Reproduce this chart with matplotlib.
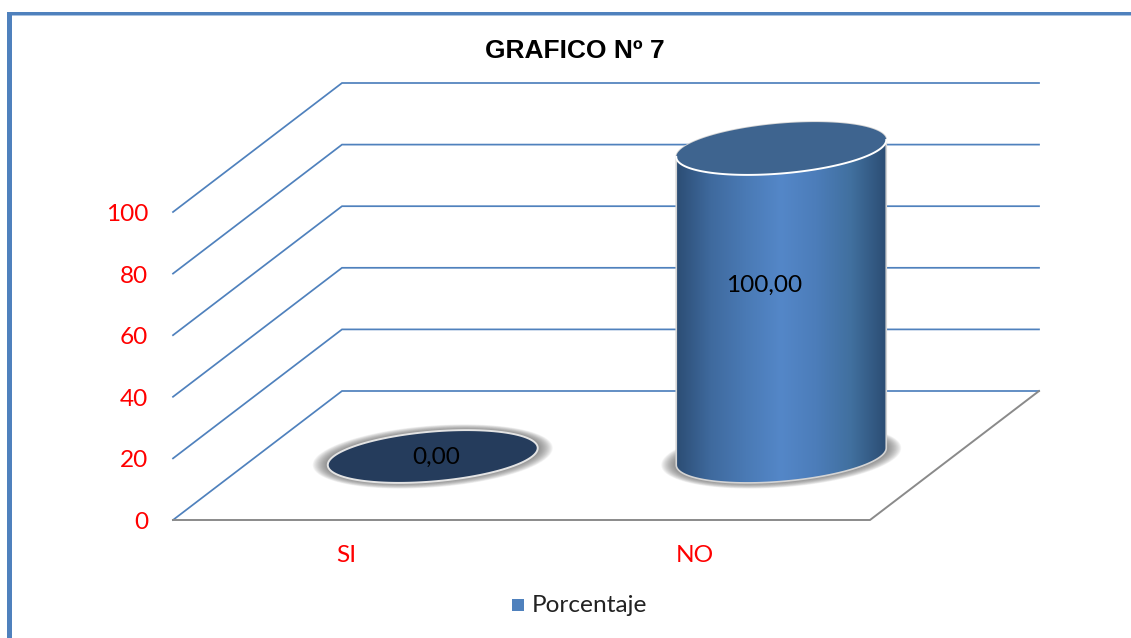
import numpy as np
import matplotlib
matplotlib.use('Agg')
import matplotlib.pyplot as plt
from matplotlib.patches import PathPatch, Rectangle
from matplotlib.path import Path
from matplotlib.colors import LinearSegmentedColormap

categories = ['SI', 'NO']
values = [0.00, 100.00]
value_labels = ['0,00', '100,00']
y_ticks = [0, 20, 40, 60, 80, 100]
series_name = 'Porcentaje'
chart_title = 'GRAFICO Nº 7'

W, H = 1131, 638
FRONT_LEFT, FRONT_RIGHT, FRONT_BASE = 173, 870, 520
DEPTH_X, DEPTH_Y = 169, 129
UNIT = 3.08  # pixels per percentage point
BLUE = '#4f81bd'
GREY = '#8a8a8a'
RX, RY, SKEW = 105, 25, 8.5
TEXT_SIZE = 17.6

fig = plt.figure(figsize=(W / 100, H / 100), dpi=100)
ax = fig.add_axes([0, 0, 1, 1])
ax.set_xlim(0, W)
ax.set_ylim(H, 0)
ax.axis('off')

label_font = ['Lato', 'DejaVu Sans']


def val_y(v):
    return FRONT_BASE - v * UNIT


def cat_x(i):
    step = (FRONT_RIGHT - FRONT_LEFT) / len(categories)
    return FRONT_LEFT + step * (i + 0.5)


def ellipse_xy(cx, cy, t0=0.0, t1=2 * np.pi, rx=RX, ry=RY, n=120):
    t = np.linspace(t0, t1, n)
    return cx + rx * np.cos(t), cy + ry * np.sin(t) - SKEW * np.cos(t)


def closed_path(x, y):
    pts = np.column_stack([np.r_[x, x[0]], np.r_[y, y[0]]])
    codes = [Path.MOVETO] + [Path.LINETO] * (len(pts) - 2) + [Path.CLOSEPOLY]
    return Path(pts, codes)


def draw_shadow(cx, cy, grow, zorder=3):
    # stacked translucent ellipses give the soft edge
    steps = 16
    for k in range(steps):
        g = grow * (1 - k / steps)
        x, y = ellipse_xy(cx, cy, rx=RX + g, ry=RY + g * 0.4)
        ax.fill(x, y, color='#666666', alpha=0.065, lw=0, zorder=zorder)


# page frame
ax.add_patch(Rectangle((7, 12), 5, H - 12, color=BLUE, lw=0, zorder=1))
ax.add_patch(Rectangle((7, 12), W - 7, 2.6, color=BLUE, lw=0, zorder=1))
ax.add_patch(Rectangle((12, 14.6), W - 12, 1, color='#a9c2e0', lw=0, zorder=1))

# walls: gridlines run along the side wall and then along the back wall
for v in y_ticks:
    y = val_y(v)
    ax.plot([FRONT_LEFT, FRONT_LEFT + DEPTH_X, FRONT_RIGHT + DEPTH_X],
            [y, y - DEPTH_Y, y - DEPTH_Y], color=BLUE, lw=1.25, zorder=2,
            solid_joinstyle='miter')
    ax.text(148, y + 2.5, str(v), color='red', fontsize=TEXT_SIZE, family=label_font,
            ha='right', va='center', zorder=6)

# floor edges
ax.plot([FRONT_LEFT, FRONT_RIGHT, FRONT_RIGHT + DEPTH_X],
        [FRONT_BASE, FRONT_BASE, FRONT_BASE - DEPTH_Y], color=GREY, lw=1.4, zorder=2,
        solid_joinstyle='miter')

body_cmap = LinearSegmentedColormap.from_list(
    'body', ['#2c4d74', '#3f6a9e', '#4a7ab5', '#5487c8', '#4c7dba', '#41709f', '#2c4d74'])
gradient = np.linspace(0, 1, 256).reshape(1, -1)

for i, (name, val, lab) in enumerate(zip(categories, values, value_labels)):
    cx = cat_x(i) + DEPTH_X / 2 + 1
    cy = FRONT_BASE - DEPTH_Y / 2 + 1
    top = cy - val * UNIT
    draw_shadow(cx, cy, 15)

    if val > 0:
        # cylinder body: front half of the base ellipse, back half of the lid
        bx, by = ellipse_xy(cx, cy, 0, np.pi)
        tx, ty = ellipse_xy(cx, top, np.pi, 2 * np.pi)
        body = closed_path(np.r_[bx, tx], np.r_[by, ty])
        im = ax.imshow(gradient, cmap=body_cmap, aspect='auto', zorder=4,
                       extent=[cx - RX, cx + RX, cy + 40, top - 40])
        im.set_clip_path(PathPatch(body, transform=ax.transData))
        ax.add_patch(PathPatch(body, fc='none', ec='#d4d4d4', lw=1.2, zorder=4.5))
        xt, yt = ellipse_xy(cx, top)
        ax.fill(xt, yt, color='#3e648f', lw=0, zorder=5)
        fx, fy = ellipse_xy(cx, top, 0, np.pi)
        ax.plot(fx, fy, color='white', lw=1.4, zorder=5.2)
        ax.set_xlim(0, W)
        ax.set_ylim(H, 0)
        label_xy = (cx - 17, (top + cy) / 2 - 17)
    else:
        xb, yb = ellipse_xy(cx, cy)
        ax.fill(xb, yb, fc='#253c5c', ec='#e4e4e4', lw=1.4, zorder=5)
        label_xy = (cx + 3, cy + 1)

    ax.text(label_xy[0], label_xy[1], lab, color='black', fontsize=TEXT_SIZE,
            family=label_font, ha='center', va='center', zorder=7)
    ax.text(cat_x(i) - 1, 556, name, color='red', fontsize=TEXT_SIZE, family=label_font,
            ha='center', va='center', zorder=6)

ax.text(574.5, 51, chart_title, fontsize=19, fontweight='bold', family='Liberation Sans',
        ha='center', va='center', color='black')

# legend
ax.add_patch(Rectangle((512, 598.5), 12, 12, color=BLUE, lw=0))
ax.text(532, 606, series_name, fontsize=TEXT_SIZE, family=label_font, ha='left', va='center',
        color='#222222')

fig.savefig('out.png', dpi=100, facecolor='white')
